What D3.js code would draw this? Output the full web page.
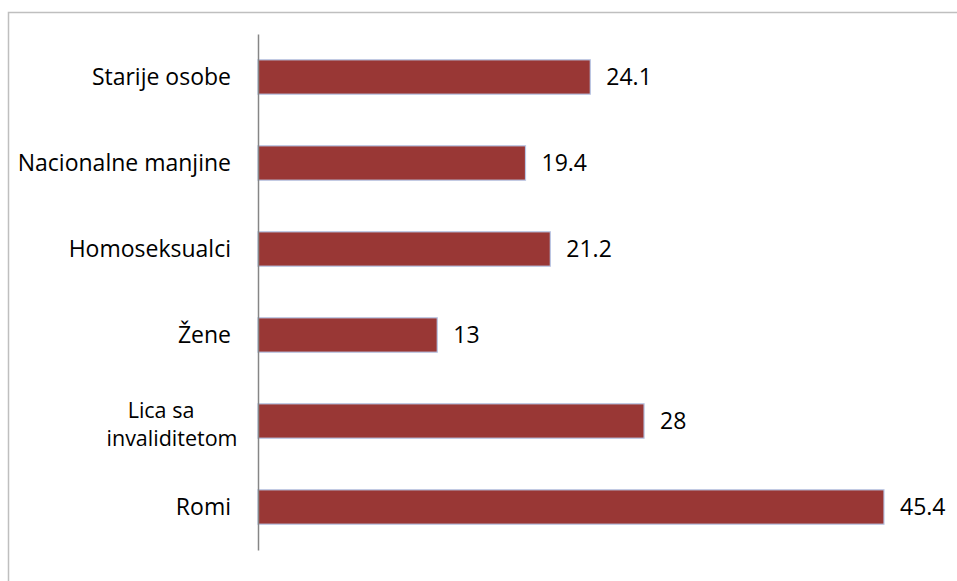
<!DOCTYPE html>
<html><head><meta charset="utf-8">
<script src="https://cdn.jsdelivr.net/npm/d3@7"></script>
<style>body{margin:0;background:#fff}svg{display:block}</style>
</head><body>
<script>
const categories = ["Starije osobe", "Nacionalne manjine", "Homoseksualci", "Žene", "Lica sa invaliditetom", "Romi"];
const labelLines = [["Starije osobe"], ["Nacionalne manjine"], ["Homoseksualci"], ["Žene"], ["Lica sa", "invaliditetom"], ["Romi"]];
const values = [24.1, 19.4, 21.2, 13, 28, 45.4];
const valueLabels = ["24.1", "19.4", "21.2", "13", "28", "45.4"];

const W = 957, H = 581;
const svg = d3.select("body").append("svg").attr("width", W).attr("height", H);
svg.append("rect").attr("x", 8.5).attr("y", 12.5).attr("width", 960).attr("height", 600)
  .attr("fill", "none").attr("stroke", "#bfbfbf").attr("stroke-width", 1.5);

const x = d3.scaleLinear().domain([0, 45.4]).range([258, 884]);
const y = d3.scaleBand().domain(categories).range([34, 550]).paddingInner(0.6).paddingOuter(0.3);

const font = "'Open Sans', sans-serif";
const fs = 23;
const g = svg.append("g");
g.selectAll("rect.bar").data(categories).join("rect").attr("class", "bar")
  .attr("x", x(0)).attr("y", d => y(d))
  .attr("width", (d, i) => x(values[i]) - x(0)).attr("height", y.bandwidth())
  .attr("fill", "#993735").attr("stroke", "#b9c7e6").attr("stroke-width", 1.2);

g.selectAll("text.val").data(categories).join("text").attr("class", "val")
  .attr("x", (d, i) => x(values[i]) + 16).attr("y", d => y(d) + y.bandwidth() / 2)
  .attr("dy", "0.36em").attr("font-family", font).attr("font-size", fs).attr("fill", "#000")
  .text((d, i) => valueLabels[i]);

const yAxis = d3.axisLeft(y).tickSize(0).tickPadding(27).tickFormat(() => "");
const ax = svg.append("g").attr("transform", `translate(${x(0)},0)`).call(yAxis);
ax.select(".domain").attr("stroke", "#868686").attr("stroke-width", 1.5);

const multiX = [-97, -86];
ax.selectAll(".tick").each(function(d, i) {
  const lines = labelLines[i];
  const multi = lines.length > 1;
  const t = d3.select(this).select("text").attr("font-family", font).attr("font-size", multi ? 21.5 : fs)
    .attr("fill", "#000").attr("text-anchor", multi ? "middle" : "end");
  lines.forEach((ln, k) => {
    t.append("tspan").attr("x", multi ? multiX[k] : -27)
      .attr("dy", multi ? (k === 0 ? "-0.12em" : "1.26em") : "0.36em").text(ln);
  });
});
</script>
</body></html>
